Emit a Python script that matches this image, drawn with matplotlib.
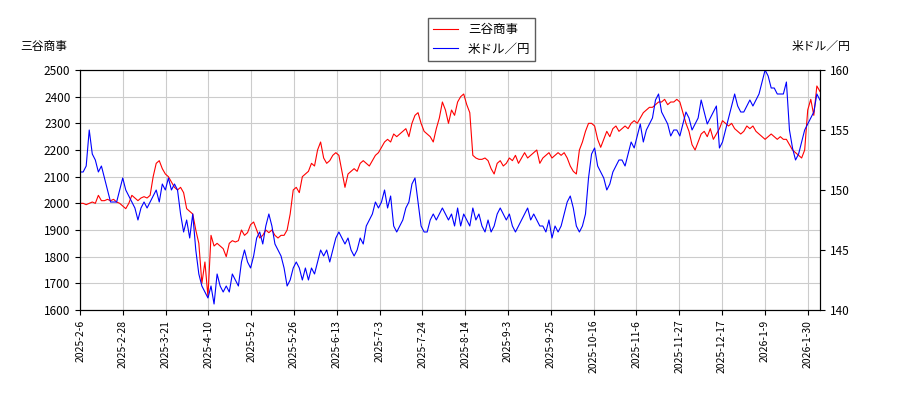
import matplotlib
matplotlib.use("Agg")
from matplotlib import pyplot as plt

plt.rcParams['font.family'] = ['Noto Sans CJK JP', 'DejaVu Sans']

tick_labels = ["2025-2-6", "2025-2-28", "2025-3-21", "2025-4-10", "2025-5-2", "2025-5-26",
               "2025-6-13", "2025-7-3", "2025-7-24", "2025-8-14", "2025-9-3", "2025-9-25",
               "2025-10-16", "2025-11-6", "2025-11-27", "2025-12-17", "2026-1-9", "2026-1-30"]

# 三谷商事 (1営業日ごと)
stock = [2000,2000,1995,2000,2005,2000,2030,2010,2010,2015,2010,2015,2005,2000,1990,
         1980,2000,2030,2020,2010,2020,2025,2020,2030,2100,2150,2160,2130,2110,2100,
         2080,2060,2050,2060,2040,1980,1970,1960,1900,1850,1700,1780,1650,1880,1840,
         1850,1840,1830,1800,1850,1860,1855,1860,1900,1880,1890,1920,1930,1900,1870,
         1880,1900,1890,1900,1880,1870,1880,1880,1900,1960,2050,2060,2040,2100,2110,
         2120,2150,2140,2200,2230,2170,2150,2160,2180,2190,2180,2120,2060,2110,2120,
         2130,2120,2150,2160,2150,2140,2160,2180,2190,2210,2230,2240,2230,2260,2250,
         2260,2270,2280,2250,2300,2330,2340,2300,2270,2260,2250,2230,2280,2320,2380,
         2350,2300,2350,2330,2380,2400,2410,2370,2340,2180,2170,2165,2165,2170,2160,
         2130,2110,2150,2160,2140,2150,2170,2160,2180,2150,2170,2190,2170,2180,2190,
         2200,2150,2170,2180,2190,2170,2180,2190,2180,2190,2170,2140,2120,2110,2200,
         2230,2270,2300,2300,2290,2240,2210,2240,2270,2250,2280,2290,2270,2280,2290,
         2280,2300,2310,2300,2320,2340,2350,2360,2360,2370,2380,2380,2390,2370,2380,
         2380,2390,2380,2340,2300,2270,2220,2200,2230,2260,2270,2250,2280,2240,2260,
         2280,2310,2300,2290,2300,2280,2270,2260,2270,2290,2280,2290,2270,2260,2250,
         2240,2250,2260,2250,2240,2250,2240,2240,2220,2200,2190,2180,2170,2200,2350,
         2390,2330,2440,2420]

# 米ドル／円
usdjpy = [151.5,151.5,152,155,153,152.5,151.5,152,151,150,149,149,149,150,151,
          150,149.5,149,148.5,147.5,148.5,149,148.5,149,149.5,150,149,150.5,150,151,
          150,150.5,150,148,146.5,147.5,146,148,145,143,142,141.5,141,142,140.5,
          143,142,141.5,142,141.5,143,142.5,142,144,145,144,143.5,144.5,146,146.5,
          145.5,147,148,147,145.5,145,144.5,143.5,142,142.5,143.5,144,143.5,142.5,143.5,
          142.5,143.5,143,144,145,144.5,145,144,145,146,146.5,146,145.5,146,145,
          144.5,145,146,145.5,147,147.5,148,149,148.5,149,150,148.5,149.5,147,146.5,
          147,147.5,148.5,149,150.5,151,149,147,146.5,146.5,147.5,148,147.5,148,148.5,
          148,147.5,148,147,148.5,147,148,147.5,147,148.5,147.5,148,147,146.5,147.5,
          146.5,147,148,148.5,148,147.5,148,147,146.5,147,147.5,148,148.5,147.5,148,
          147.5,147,147,146.5,147.5,146,147,146.5,147,148,149,149.5,148.5,147,146.5,
          147,148,151,153,153.5,152,151.5,151,150,150.5,151.5,152,152.5,152.5,152,
          153,154,153.5,154.5,155.5,154,155,155.5,156,157.5,158,156.5,156,155.5,154.5,
          155,155,154.5,155.5,156.5,156,155,155.5,156,157.5,156.5,155.5,156,156.5,157,
          153.5,154,155,156,157,158,157,156.5,156.5,157,157.5,157,157.5,158,159,
          160,159.5,158.5,158.5,158,158,158,159,155,153.5,152.5,153,154,155,155.5,
          156,156.5,158,157.5]

fig, ax = plt.subplots(figsize=(9, 4), dpi=100)
fig.subplots_adjust(left=0.089, right=0.911, top=0.825, bottom=0.225)
ax2 = ax.twinx()

l1, = ax.plot(range(len(stock)), stock, color="red", lw=0.8, label="三谷商事")
l2, = ax2.plot(range(len(usdjpy)), usdjpy, color="blue", lw=0.8, label="米ドル／円")

step = (len(stock) - 1) * 42.8 / 740
ax.set_ylim(1600, 2500)
ax.set_yticks(range(1600, 2501, 100))
ax2.set_ylim(140, 160)
ax2.set_yticks(range(140, 161, 5))
ax.set_xlim(0, len(stock) - 1)
ax.set_xticks([i * step for i in range(len(tick_labels))])
ax.set_xticklabels(tick_labels, rotation=90, fontsize=7.5)
ax.tick_params(axis="y", labelsize=8.5)
ax2.tick_params(axis="y", labelsize=8.5)
ax.grid(True, color="#cccccc", lw=0.8)

fig.text(0.022, 0.875, "三谷商事", fontsize=8.5)
fig.text(0.945, 0.875, "米ドル／円", fontsize=8.5, ha="right")
fig.legend(handles=[l1, l2], loc="upper center", bbox_to_anchor=(0.535, 0.97),
           fontsize=9, fancybox=False, edgecolor="#333333")

fig.savefig("out.png")
